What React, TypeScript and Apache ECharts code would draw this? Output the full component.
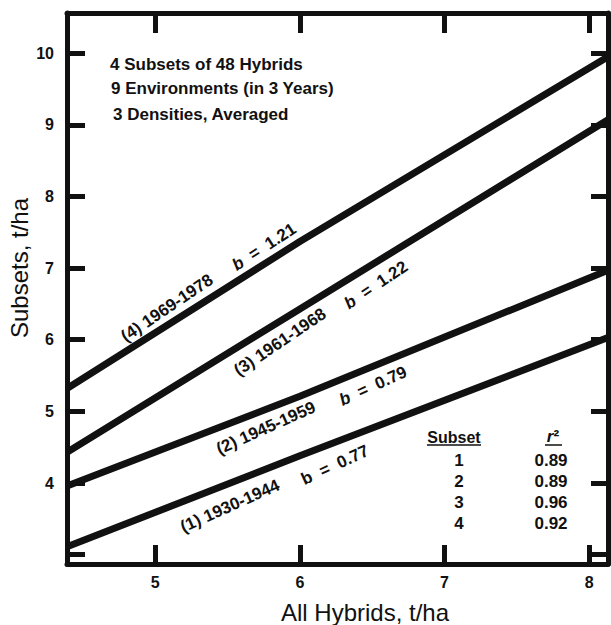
import React, { useEffect, useRef } from "react";
import * as echarts from "echarts";

// ---- data ----
const allHybrids = [4.39, 6.0, 8.13];
const subset1 = [3.11, 4.38, 6.03];
const subset2 = [3.96, 5.21, 6.97];
const subset3 = [4.43, 6.43, 9.07];
const subset4 = [5.32, 7.37, 9.95];
const periodLabels = ["(1) 1930-1944", "(2) 1945-1959", "(3) 1961-1968", "(4) 1969-1978"];
const slopes = ["0.77", "0.79", "1.22", "1.21"];
const subsetIds = ["1", "2", "3", "4"];
const rSquared = ["0.89", "0.89", "0.96", "0.92"];
const notes = ["4 Subsets of 48 Hybrids", "9 Environments (in 3 Years)", "3 Densities, Averaged"];
const xTickLabels = [5, 6, 7, 8];
const yTickLabels = [4, 5, 6, 7, 8, 9, 10];
const xTitle = "All Hybrids, t/ha";
const yTitle = "Subsets, t/ha";

const FONT = "'Liberation Sans', Arial, Helvetica, sans-serif";
const INK = "#111";

export default function App() {
  const ref = useRef<HTMLDivElement>(null);
  useEffect(() => {
    if (!ref.current) return;
    const chart = echarts.init(ref.current, undefined, { renderer: "svg" });
    const seriesVals = [subset1, subset2, subset3, subset4];
    const series = seriesVals.map((vals, i) => ({
      type: "line",
      name: periodLabels[i],
      data: allHybrids.map((x, j) => [x, vals[j]]),
      symbol: "none",
      lineStyle: { color: INK, width: 7 },
      clip: true,
      silent: true,
    }));

    const tickLabel = { fontSize: 16, fontWeight: "bold", color: INK, fontFamily: FONT };
    const labelFrom = (list: number[]) => (v: number) =>
      list.some((t) => Math.abs(t - v) < 1e-6) ? String(v) : "";
    const baseX = {
      type: "value",
      min: 4.39,
      max: 8.13,
      minInterval: 1,
      maxInterval: 1,
      splitNumber: 4,
      splitLine: { show: false },
      axisLine: { show: true, onZero: false, lineStyle: { color: INK, width: 5 } },
    };
    const baseY = {
      type: "value",
      min: 2.87,
      max: 10.56,
      minInterval: 1,
      maxInterval: 1,
      splitNumber: 8,
      splitLine: { show: false },
      axisLine: { show: true, onZero: false, lineStyle: { color: INK, width: 5 } },
    };

    // label layout (pixel positions, rotation in degrees)
    const lineLabelLayout = [
      { x: 230, y: 506, r: 24, bx: 335, by: 465, br: 25, italic: false },
      { x: 266, y: 428, r: 24, bx: 373, by: 386, br: 24.5, italic: true },
      { x: 280, y: 342, r: 34, bx: 376, by: 285, br: 34, italic: true },
      { x: 167, y: 308, r: 34, bx: 264, by: 247, br: 33, italic: true },
    ];
    const rad = (d: number) => (d * Math.PI) / 180;
    const txtStyle = (text: string, extra: any = {}) => ({
      text,
      fill: INK,
      fontSize: 17,
      fontWeight: "bold",
      fontFamily: FONT,
      align: "center",
      verticalAlign: "middle",
      rich: { i: { fontStyle: "italic", fontWeight: "bold", fontSize: 17, fontFamily: FONT, fill: INK } },
      ...extra,
    });

    const graphic: any[] = [];
    lineLabelLayout.forEach((p, i) => {
      graphic.push({ type: "text", x: p.x, y: p.y, rotation: rad(p.r), silent: true, style: txtStyle(periodLabels[i]) });
      graphic.push({
        type: "text",
        x: p.bx,
        y: p.by,
        rotation: rad(p.br),
        silent: true,
        style: txtStyle((p.italic ? "{i|b}" : "b") + "  =  " + slopes[i]),
      });
    });
    const noteLayout = [
      { x: 110, y: 64 },
      { x: 111, y: 88 },
      { x: 113, y: 114 },
    ];
    notes.forEach((t, i) => {
      graphic.push({
        type: "text",
        x: noteLayout[i].x,
        y: noteLayout[i].y,
        silent: true,
        style: txtStyle(t, { align: "left" }),
      });
    });
    // table
    graphic.push({ type: "text", x: 454, y: 437, silent: true, style: txtStyle("Subset", { fontSize: 16 }) });
    graphic.push({ type: "line", silent: true, shape: { x1: 427, y1: 445, x2: 481, y2: 445 }, style: { stroke: INK, lineWidth: 1.5 } });
    graphic.push({ type: "text", x: 553, y: 436, silent: true, style: txtStyle("{i|r}²") });
    graphic.push({ type: "line", silent: true, shape: { x1: 545, y1: 445, x2: 562, y2: 445 }, style: { stroke: INK, lineWidth: 1.5 } });
    const rowY = [460, 481, 502, 523];
    subsetIds.forEach((s, i) => {
      graphic.push({ type: "text", x: 459, y: rowY[i], silent: true, style: txtStyle(s) });
      graphic.push({ type: "text", x: 551, y: rowY[i], silent: true, style: txtStyle(rSquared[i]) });
    });
    // axis titles
    graphic.push({
      type: "text",
      x: 365,
      y: 612,
      silent: true,
      style: txtStyle(xTitle, { fontSize: 24, fontWeight: "normal" }),
    });
    graphic.push({
      type: "text",
      x: 19,
      y: 268,
      rotation: Math.PI / 2,
      silent: true,
      style: txtStyle(yTitle, { fontSize: 24, fontWeight: "normal" }),
    });

    chart.setOption({
      animation: false,
      backgroundColor: "#fff",
      grid: { left: 67, right: 3, top: 13, bottom: 61, containLabel: false },
      xAxis: [
        {
          ...baseX,
          position: "bottom",
          axisTick: { show: true, inside: true, length: 19, lineStyle: { color: INK, width: 5 } },
          axisLabel: { ...tickLabel, margin: 10, formatter: labelFrom(xTickLabels) },
        },
        {
          ...baseX,
          position: "top",
          axisTick: { show: true, inside: true, length: 20, lineStyle: { color: INK, width: 5 } },
          axisLabel: { show: false },
        },
      ],
      yAxis: [
        {
          ...baseY,
          position: "left",
          axisTick: { show: true, inside: true, length: 18, lineStyle: { color: INK, width: 5 } },
          axisLabel: { ...tickLabel, margin: 13, formatter: labelFrom(yTickLabels) },
        },
        {
          ...baseY,
          position: "right",
          axisTick: { show: true, inside: true, length: 17, lineStyle: { color: INK, width: 5 } },
          axisLabel: { show: false },
        },
      ],
      series,
      graphic,
    });
    return () => chart.dispose();
  }, []);
  return (
    <div
      ref={ref}
      style={{ position: "fixed", left: 0, top: 0, width: 611, height: 625, background: "#fff" }}
    />
  );
}
